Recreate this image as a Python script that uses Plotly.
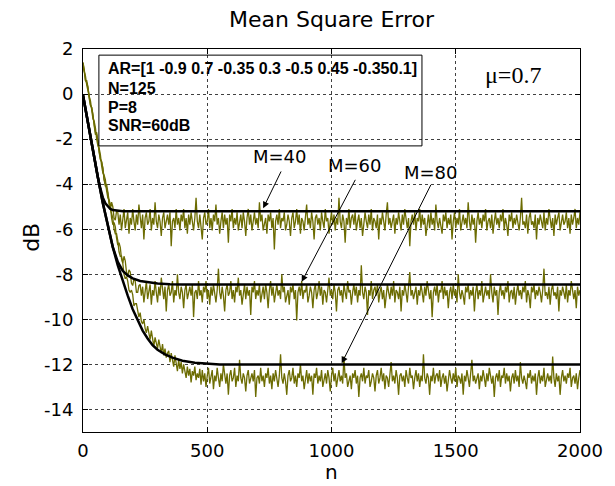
import plotly.graph_objects as go

# sample index (every 5th iteration)
n_values = list(range(0, 2001, 5))

# measured (noisy) MSE curves in dB, one value per 5 iterations
mse_m40 = [
    1.4, 0.9, 0.6, 0.6, 0.3, -0.2, -0.5, -0.6, -0.9, -1.4,
    -1.8, -1.7, -2.1, -2.7, -2.9, -3.0, -3.3, -3.8, -4.1, -4.0,
    -4.4, -4.9, -5.1, -4.8, -5.0, -5.5, -5.6, -5.2,
    -5.25, -5.8, -5.35, -6.05, -5.5, -5.1, -5.95, -5.65, -5.25, -6.2,
    -5.5, -5.8, -5.1, -5.65, -6.05, -5.35, -5.8, -4.9, -5.65, -5.95,
    -5.35, -6.45, -5.5, -5.25, -5.8, -5.65, -5.1, -6.05, -5.5, -5.8,
    -4.8, -5.65, -5.95, -5.35, -5.65, -6.3, -5.5, -5.25, -5.95, -5.65,
    -5.35, -5.8, -5.25, -6.75, -5.65, -5.5, -5.95, -5.1, -5.8, -5.5,
    -6.05, -5.35, -5.65, -5.1, -5.95, -5.5, -6.2, -5.35, -5.8, -5.25,
    -5.65, -6.05, -5.5, -4.6, -5.65, -5.95, -5.35, -5.8, -6.45, -5.5,
    -5.25, -5.8, -5.65, -5.1, -5.95, -5.5, -6.05, -5.35, -5.65, -4.9,
    -5.8, -5.5, -6.2, -5.65, -5.25, -5.95, -5.35, -5.8, -5.5, -6.6,
    -5.35, -5.65, -5.1, -5.95, -5.5, -5.8, -5.25, -6.05, -5.65, -5.35,
    -5.95, -5.25, -5.65, -6.3, -5.5, -5.1, -5.8, -5.35, -6.05, -5.65,
    -5.25, -5.8, -5.5, -5.95, -4.8, -5.65, -5.35, -6.05, -5.8, -5.5,
    -6.2, -5.35, -5.65, -5.25, -5.95, -5.5, -6.9, -5.65, -5.35, -5.8,
    -5.1, -5.95, -5.5, -5.65, -5.25, -6.05, -5.8, -5.35, -5.65, -6.3,
    -5.5, -5.25, -5.95, -5.65, -5.1, -5.8, -5.35, -6.2, -5.5, -5.65,
    -6.05, -5.35, -4.9, -5.8, -5.5, -5.95, -5.25, -5.65, -6.45, -5.5,
    -5.35, -5.8, -5.5, -6.05, -5.25, -5.65, -5.95, -5.1, -5.65, -5.5,
    -6.2, -5.65, -5.25, -5.8, -5.35, -6.05, -5.5, -5.8, -4.6, -5.65,
    -5.95, -5.35, -5.65, -6.6, -5.5, -5.8, -5.1, -5.95, -5.5, -5.35,
    -5.8, -5.25, -6.05, -5.65, -5.35, -5.95, -5.5, -6.3, -5.65, -5.25,
    -5.65, -5.95, -5.35, -5.8, -5.1, -6.05, -5.5, -5.65, -5.95, -5.35,
    -6.45, -5.5, -5.8, -5.25, -5.65, -6.05, -5.35, -4.8, -5.8, -5.5,
    -5.95, -5.65, -5.35, -6.2, -5.5, -5.8, -5.25, -5.65, -6.05, -5.35,
    -5.8, -5.1, -5.65, -5.95, -5.5, -6.75, -5.65, -5.35, -5.8, -5.25,
    -6.05, -5.5, -5.65, -5.1, -5.95, -5.35, -5.8, -5.5, -6.3, -5.65,
    -5.35, -5.95, -5.25, -5.8, -5.5, -6.05, -4.9, -5.65, -5.95, -5.5,
    -5.8, -6.2, -5.35, -5.65, -5.25, -5.95, -5.5, -5.8, -5.35, -6.45,
    -5.65, -5.25, -5.95, -5.5, -5.8, -5.1, -6.05, -5.65, -5.35, -5.8,
    -5.5, -5.95, -4.8, -5.65, -6.05, -5.35, -5.8, -5.5, -6.6, -5.65,
    -5.25, -5.8, -5.5, -5.95, -5.35, -5.65, -5.1, -6.05, -5.65, -5.5,
    -5.95, -5.35, -6.2, -5.65, -5.25, -5.8, -5.5, -5.95, -5.35, -5.65,
    -5.1, -6.05, -5.5, -5.8, -6.3, -5.35, -5.65, -5.25, -5.95, -5.5,
    -5.8, -5.35, -5.65, -6.05, -5.5, -4.6, -5.8, -5.65, -5.95, -5.35,
    -6.2, -5.5, -5.25, -5.8, -5.65, -5.95, -5.35, -6.45, -5.5, -5.8,
    -5.35, -5.65, -5.95, -5.25, -6.05, -5.5, -5.8, -5.1, -5.65, -5.95,
    -5.5, -6.3, -5.35, -5.8, -5.5, -5.25, -6.05, -5.65, -5.35, -5.8,
    -5.65, -5.25, -5.95, -5.5, -6.2, -5.35, -5.8, -5.5, -5.1, -5.95,
    -5.5, -5.8, -5.25,
]

mse_m60 = [
    1.2, 1.0, 0.8, 0.4, 0.1, -0.1, -0.3, -0.8, -1.1, -1.2,
    -1.5, -2.0, -2.3, -2.4, -2.7, -3.2, -3.5, -3.6, -3.8, -4.3,
    -4.6, -4.7, -4.9, -5.5, -5.8, -5.7, -5.9, -6.4, -6.7, -6.6,
    -6.8, -7.3, -7.5, -7.2, -7.4, -7.9, -8.1, -7.8, -7.9, -8.4,
    -8.5, -8.2, -8.3, -8.8, -8.8, -8.5,
    -8.45, -8.95, -8.55, -9.25, -8.7, -8.3, -9.1, -8.8, -8.45, -9.35,
    -8.7, -8.95, -8.3, -8.8, -9.25, -8.55, -8.95, -8.15, -8.8, -9.1,
    -8.55, -9.65, -8.7, -8.45, -8.95, -8.8, -8.3, -9.25, -8.7, -8.95,
    -8.0, -8.8, -9.1, -8.55, -8.8, -9.5, -8.7, -8.45, -9.1, -8.8,
    -8.55, -8.95, -8.45, -9.9, -8.8, -8.7, -9.1, -8.3, -8.95, -8.7,
    -9.25, -8.55, -8.8, -8.3, -9.1, -8.7, -9.35, -8.55, -8.95, -8.45,
    -8.8, -9.25, -8.7, -7.75, -8.8, -9.1, -8.55, -8.95, -9.65, -8.7,
    -8.45, -8.95, -8.8, -8.3, -9.1, -8.7, -9.25, -8.55, -8.8, -8.15,
    -8.95, -8.7, -9.35, -8.8, -8.45, -9.1, -8.55, -8.95, -8.7, -9.8,
    -8.55, -8.8, -8.3, -9.1, -8.7, -8.95, -8.45, -9.25, -8.8, -8.55,
    -9.1, -8.45, -8.8, -9.5, -8.7, -8.3, -8.95, -8.55, -9.25, -8.8,
    -8.45, -8.95, -8.7, -9.1, -8.0, -8.8, -8.55, -9.25, -8.95, -8.7,
    -9.35, -8.55, -8.8, -8.45, -9.1, -8.7, -10.05, -8.8, -8.55, -8.95,
    -8.3, -9.1, -8.7, -8.8, -8.45, -9.25, -8.95, -8.55, -8.8, -9.5,
    -8.7, -8.45, -9.1, -8.8, -8.3, -8.95, -8.55, -9.35, -8.7, -8.8,
    -9.25, -8.55, -8.15, -8.95, -8.7, -9.1, -8.45, -8.8, -9.65, -8.7,
    -8.55, -8.95, -8.7, -9.25, -8.45, -8.8, -9.1, -8.3, -8.8, -8.7,
    -9.35, -8.8, -8.45, -8.95, -8.55, -9.25, -8.7, -8.95, -7.6, -8.8,
    -9.1, -8.55, -8.8, -9.8, -8.7, -8.95, -8.3, -9.1, -8.7, -8.55,
    -8.95, -8.45, -9.25, -8.8, -8.55, -9.1, -8.7, -9.5, -8.8, -8.45,
    -8.8, -9.1, -8.55, -8.95, -8.3, -9.25, -8.7, -8.8, -9.1, -8.55,
    -9.65, -8.7, -8.95, -8.45, -8.8, -9.25, -8.55, -7.9, -8.95, -8.7,
    -9.1, -8.8, -8.55, -9.35, -8.7, -8.95, -8.45, -8.8, -9.25, -8.55,
    -8.95, -8.3, -8.8, -9.1, -8.7, -9.9, -8.8, -8.55, -8.95, -8.45,
    -9.25, -8.7, -8.8, -8.3, -9.1, -8.55, -8.95, -8.7, -9.5, -8.8,
    -8.55, -9.1, -8.45, -8.95, -8.7, -9.25, -8.0, -8.8, -9.1, -8.7,
    -8.95, -9.35, -8.55, -8.8, -8.45, -9.1, -8.7, -8.95, -8.55, -9.65,
    -8.8, -8.45, -9.1, -8.7, -8.95, -8.3, -9.25, -8.8, -8.55, -8.95,
    -8.7, -9.1, -8.0, -8.8, -9.25, -8.55, -8.95, -8.7, -9.8, -8.8,
    -8.45, -8.95, -8.7, -9.1, -8.55, -8.8, -8.3, -9.25, -8.8, -8.7,
    -9.1, -8.55, -9.35, -8.8, -8.45, -8.95, -8.7, -9.1, -8.55, -8.8,
    -8.3, -9.25, -8.7, -8.95, -9.5, -8.55, -8.8, -8.45, -9.1, -8.7,
    -8.95, -8.55, -8.8, -9.25, -8.7, -7.75, -8.95, -8.8, -9.1, -8.55,
    -9.35, -8.7, -8.45, -8.95, -8.8, -9.1, -8.55, -9.65, -8.7, -8.95,
    -8.55, -8.8, -9.1, -8.45, -9.25, -8.7, -8.95, -8.3, -8.8, -9.1,
    -8.7, -9.5, -8.55, -8.95, -8.7,
]

mse_m80 = [
    1.4, 1.1, 0.6, 0.5, 0.3, -0.2, -0.5, -0.6, -1.0, -1.4,
    -1.7, -1.8, -2.1, -2.6, -2.9, -3.0, -3.3, -3.8, -4.0, -4.1,
    -4.4, -4.9, -5.1, -5.2, -5.5, -6.0, -6.2, -6.2, -6.5, -7.0,
    -7.2, -7.2, -7.5, -8.0, -8.2, -8.1, -8.3, -8.7, -8.8, -8.7,
    -8.9, -9.4, -9.3, -9.3, -9.7, -9.9, -9.7, -10.1, -10.2, -10.0,
    -10.4, -10.6, -10.3, -10.7, -10.9, -10.5, -10.9, -11.2, -10.8, -11.1,
    -11.3, -10.9, -11.2, -11.5, -11.1, -11.6, -11.3, -11.7, -11.5, -11.4,
    -11.9, -11.5, -11.8, -12.1, -11.6, -12.0, -12.3, -11.8, -12.2, -11.9,
    -12.4, -12.0, -12.3, -12.6, -12.1, -12.5, -12.2, -12.8, -12.3, -12.5,
    -12.1, -12.7, -12.4, -12.6, -12.2, -12.9,
    -12.25, -12.75, -12.4, -13.0, -12.5, -12.15, -12.85, -12.6, -12.25, -13.1,
    -12.5, -12.75, -12.15, -12.6, -13.0, -12.4, -12.75, -12.0, -12.6, -12.85,
    -12.4, -13.35, -12.5, -12.25, -12.75, -12.6, -12.15, -13.0, -12.5, -12.75,
    -11.8, -12.6, -12.85, -12.4, -12.6, -13.2, -12.5, -12.25, -12.85, -12.6,
    -12.4, -12.75, -12.25, -13.45, -12.6, -12.5, -12.85, -12.15, -12.75, -12.5,
    -13.0, -12.4, -12.6, -12.15, -12.85, -12.5, -13.1, -12.4, -12.75, -12.25,
    -12.6, -13.0, -12.5, -11.55, -12.6, -12.85, -12.4, -12.75, -13.35, -12.5,
    -12.25, -12.75, -12.6, -12.15, -12.85, -12.5, -13.0, -12.4, -12.6, -12.0,
    -12.75, -12.5, -13.1, -12.6, -12.25, -12.85, -12.4, -12.75, -12.5, -13.35,
    -12.4, -12.6, -12.15, -12.85, -12.5, -12.75, -12.25, -13.0, -12.6, -12.4,
    -12.85, -12.25, -12.6, -13.2, -12.5, -12.15, -12.75, -12.4, -13.0, -12.6,
    -12.25, -12.75, -12.5, -12.85, -11.65, -12.6, -12.4, -13.0, -12.75, -12.5,
    -13.1, -12.4, -12.6, -12.25, -12.85, -12.5, -13.45, -12.6, -12.4, -12.75,
    -12.15, -12.85, -12.5, -12.6, -12.25, -13.0, -12.75, -12.4, -12.6, -13.2,
    -12.5, -12.25, -12.85, -12.6, -12.15, -12.75, -12.4, -13.1, -12.5, -12.6,
    -13.0, -12.4, -11.9, -12.75, -12.5, -12.85, -12.25, -12.6, -13.35, -12.5,
    -12.4, -12.75, -12.5, -13.0, -12.25, -12.6, -12.85, -12.15, -12.6, -12.5,
    -13.1, -12.6, -12.25, -12.75, -12.4, -13.0, -12.5, -12.75, -11.55, -12.6,
    -12.85, -12.4, -12.6, -13.35, -12.5, -12.75, -12.15, -12.85, -12.5, -12.4,
    -12.75, -12.25, -13.0, -12.6, -12.4, -12.85, -12.5, -13.2, -12.6, -12.25,
    -12.6, -12.85, -12.4, -12.75, -12.15, -13.0, -12.5, -12.6, -12.85, -12.4,
    -13.35, -12.5, -12.75, -12.25, -12.6, -13.0, -12.4, -11.8, -12.75, -12.5,
    -12.85, -12.6, -12.4, -13.1, -12.5, -12.75, -12.25, -12.6, -13.0, -12.4,
    -12.75, -12.15, -12.6, -12.85, -12.5, -13.45, -12.6, -12.4, -12.75, -12.25,
    -13.0, -12.5, -12.6, -12.15, -12.85, -12.4, -12.75, -12.5, -13.2, -12.6,
    -12.4, -12.85, -12.25, -12.75, -12.5, -13.0, -11.9, -12.6, -12.85, -12.5,
    -12.75, -13.1, -12.4, -12.6, -12.25, -12.85, -12.5, -12.75, -12.4, -13.35,
    -12.6, -12.25, -12.85, -12.5, -12.75, -12.15, -13.0, -12.6, -12.4, -12.75,
    -12.5, -12.85, -11.65, -12.6, -13.0, -12.4, -12.75, -12.5, -13.35, -12.6,
    -12.25, -12.75, -12.5, -12.85, -12.4, -12.6, -12.15, -13.0, -12.6, -12.5,
    -12.85, -12.4, -13.1, -12.6, -12.25,
]

# theoretical (smooth) MSE curves in dB
theory_m40_n = [0, 20, 40, 60, 70, 80, 90, 100, 110, 120, 140, 160, 2000]
theory_m40_db = [-0.05, -1.3, -2.5, -3.7, -4.2, -4.6, -4.85, -5.0, -5.1, -5.15, -5.19, -5.2, -5.2]
theory_m60_n = [0, 20, 40, 60, 80, 100, 120, 140, 160, 180, 200, 230, 260, 300, 350, 400, 2000]
theory_m60_db = [-0.05, -1.3, -2.5, -3.7, -4.85, -5.9, -6.8, -7.45, -7.85, -8.05, -8.18, -8.3,
                 -8.36, -8.41, -8.44, -8.45, -8.45]
theory_m80_n = [0, 20, 40, 60, 80, 100, 120, 140, 160, 180, 200, 220, 240, 260, 280, 300,
                330, 360, 400, 450, 500, 550, 2000]
theory_m80_db = [-0.05, -1.3, -2.5, -3.7, -4.85, -5.9, -6.8, -7.6, -8.3, -8.95, -9.55, -10.05,
                 -10.5, -10.85, -11.15, -11.35, -11.55, -11.7, -11.84, -11.93, -11.98, -12.0, -12.0]

x_ticks = [0, 500, 1000, 1500, 2000]
y_ticks = [2, 0, -2, -4, -6, -8, -10, -12, -14]

info_lines = ["AR=[1 -0.9 0.7 -0.35 0.3 -0.5 0.45 -0.350.1]", "N=125", "P=8", "SNR=60dB"]
curve_labels = ["M=40", "M=60", "M=80"]

OLIVE = "#6c6c02"

fig = go.Figure()
for y in (mse_m40, mse_m60, mse_m80):
    fig.add_trace(go.Scatter(x=n_values[:len(y)], y=y, mode="lines",
                             line=dict(color=OLIVE, width=1.3), hoverinfo="skip"))
for xs, ys in ((theory_m40_n, theory_m40_db), (theory_m60_n, theory_m60_db),
               (theory_m80_n, theory_m80_db)):
    fig.add_trace(go.Scatter(x=xs, y=ys, mode="lines",
                             line=dict(color="black", width=2.5), hoverinfo="skip"))

axis_common = dict(
    ticks="inside", ticklen=5, tickcolor="black", tickwidth=1,
    showline=True, linecolor="black", linewidth=1, mirror="allticks",
    showgrid=True, gridcolor="rgba(0,0,0,0.75)", griddash="dot", gridwidth=1,
    zeroline=False,
    tickfont=dict(family="DejaVu Sans", size=18, color="black"),
)
fig.update_xaxes(range=[0, 2000], tickvals=x_ticks, ticktext=[str(v) for v in x_ticks],
                 ticklabelstandoff=2, **axis_common)
fig.update_yaxes(range=[-15, 2.0001], tickvals=y_ticks, ticktext=[str(v) for v in y_ticks],
                 ticklabelstandoff=5, **axis_common)

annotations = []
annotations.append(dict(text="Mean Square Error", x=0.5, y=1.076, xref="paper", yref="paper",
                        showarrow=False, font=dict(family="DejaVu Sans", size=22, color="black"),
                        xanchor="center", yanchor="middle"))
annotations.append(dict(text="n", x=0.5, y=-0.1044, xref="paper", yref="paper",
                        showarrow=False, font=dict(family="DejaVu Sans", size=20, color="black"),
                        xanchor="center", yanchor="middle"))
annotations.append(dict(text="dB", x=-0.105, y=0.509, xref="paper", yref="paper", textangle=-90,
                        showarrow=False, font=dict(family="DejaVu Sans", size=22, color="black"),
                        xanchor="center", yanchor="middle"))
for txt, yp in zip(info_lines, [0.948, 0.896, 0.847, 0.799]):
    annotations.append(dict(text="<b>" + txt + "</b>", x=0.046, y=yp, xref="paper", yref="paper",
                            showarrow=False, xanchor="left", yanchor="middle",
                            font=dict(family="Liberation Sans", size=16, color="black")))
annotations.append(dict(text="\u03bc=0.7", x=0.865, y=0.931, xref="paper", yref="paper",
                        showarrow=False, xanchor="center", yanchor="middle",
                        font=dict(family="Liberation Serif", size=24, color="black")))
label_pos = [(793, -2.79), (1095, -3.19), (1400, -3.46)]
arrow_tail = [(800, -3.37), (1099, -3.74), (1403, -3.96)]
arrow_tip = [(725, -5.07), (880, -8.33), (1041, -11.95)]
for lab, (lx, ly), (tx, ty), (hx, hy) in zip(curve_labels, label_pos, arrow_tail, arrow_tip):
    annotations.append(dict(text=lab, x=lx, y=ly, xref="x", yref="y", showarrow=False,
                            xanchor="center", yanchor="middle",
                            font=dict(family="DejaVu Sans", size=18, color="black")))
    annotations.append(dict(text="", x=hx, y=hy, ax=tx, ay=ty, xref="x", yref="y",
                            axref="x", ayref="y", showarrow=True, arrowhead=2, arrowsize=1.3,
                            arrowwidth=1, arrowcolor="black", standoff=0, startstandoff=0))
fig.update_layout(annotations=annotations)

fig.add_shape(type="rect", xref="paper", yref="paper", x0=0.032, x1=0.682, y0=0.747, y1=0.984,
              line=dict(color="black", width=1), fillcolor="rgba(0,0,0,0)", layer="above")

# the page body adds an 8px margin, so the figure is 8px smaller than the window
fig.update_layout(width=607, height=478, margin=dict(l=75, r=35, t=41, b=54),
                  plot_bgcolor="white", paper_bgcolor="white", showlegend=False)

fig.write_html("out.html")
